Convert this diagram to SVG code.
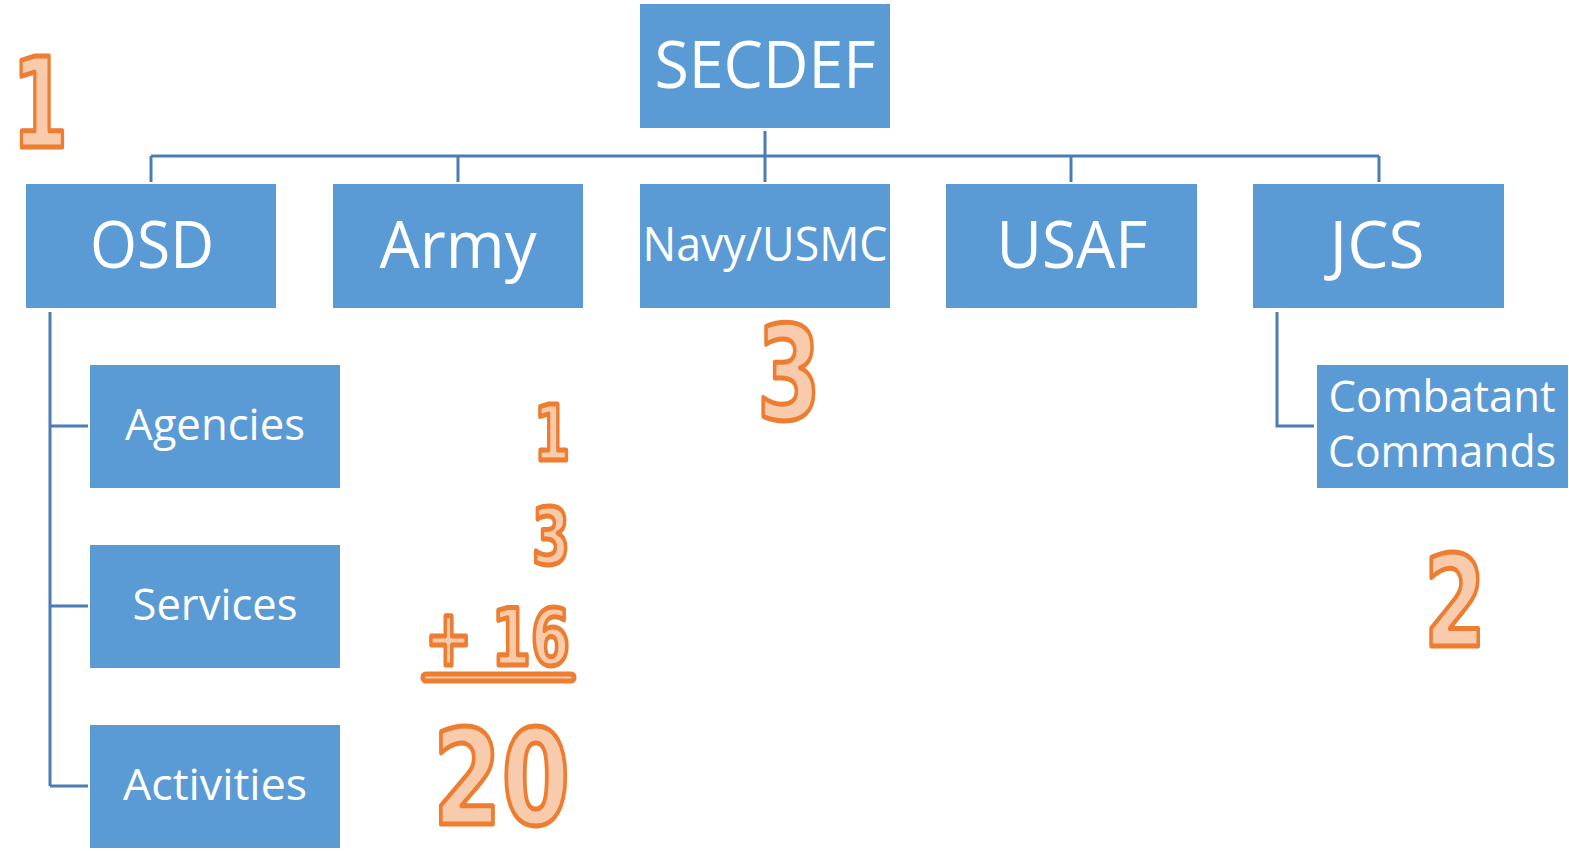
<svg xmlns="http://www.w3.org/2000/svg" width="1569" height="851" viewBox="0 0 1569 851">
  <style>
    .box { fill: #5b9bd5; }
    .lbl { fill: #ffffff; font-family: "Open Sans", "Noto Sans", sans-serif; text-anchor: middle; }
    .big { font-size: 66px; }
    .mid { font-size: 48px; }
    .sm { font-size: 43px; }
    .link { fill: none; stroke: #4a7db3; stroke-width: 3; }
    .num { fill: #f8cbad; stroke: #ed7d31; stroke-width: 5; stroke-linejoin: round; font-family: "DejaVu Sans", sans-serif; font-weight: bold; }
  </style>

  <!-- connectors -->
  <g id="connectors">
    <path class="link" d="M765 131 V182 M151 156 H1379 M151 156 V182 M458 156 V182 M1071 156 V182 M1379 156 V182"/>
    <path class="link" d="M50 312 V786 M50 426 H88 M50 606 H88 M50 786 H88"/>
    <path class="link" d="M1277 312 V426 H1314"/>
  </g>

  <g id="secdef">
    <rect class="box" x="640" y="4" width="250" height="124"/>
    <text class="lbl big" x="765" y="88" textLength="221" lengthAdjust="spacingAndGlyphs">SECDEF</text>
  </g>
  <g id="osd">
    <rect class="box" x="26" y="184" width="250" height="124"/>
    <text class="lbl big" x="152" y="268" textLength="124" lengthAdjust="spacingAndGlyphs">OSD</text>
  </g>
  <g id="army">
    <rect class="box" x="333" y="184" width="250" height="124"/>
    <text class="lbl big" x="458" y="268" textLength="157" lengthAdjust="spacingAndGlyphs">Army</text>
  </g>
  <g id="navy">
    <rect class="box" x="640" y="184" width="250" height="124"/>
    <text class="lbl mid" x="765" y="261" textLength="245" lengthAdjust="spacingAndGlyphs">Navy/USMC</text>
  </g>
  <g id="usaf">
    <rect class="box" x="946" y="184" width="251" height="124"/>
    <text class="lbl big" x="1072" y="268" textLength="151" lengthAdjust="spacingAndGlyphs">USAF</text>
  </g>
  <g id="jcs">
    <rect class="box" x="1253" y="184" width="251" height="124"/>
    <text class="lbl big" x="1377" y="268" textLength="95" lengthAdjust="spacingAndGlyphs">JCS</text>
  </g>
  <g id="agencies">
    <rect class="box" x="90" y="365" width="250" height="123"/>
    <text class="lbl sm" x="215" y="440" textLength="180" lengthAdjust="spacingAndGlyphs">Agencies</text>
  </g>
  <g id="services">
    <rect class="box" x="90" y="545" width="250" height="123"/>
    <text class="lbl sm" x="215" y="620" textLength="165" lengthAdjust="spacingAndGlyphs">Services</text>
  </g>
  <g id="activities">
    <rect class="box" x="90" y="725" width="250" height="123"/>
    <text class="lbl sm" x="215" y="800" textLength="184" lengthAdjust="spacingAndGlyphs">Activities</text>
  </g>
  <g id="combatant-commands">
    <rect class="box" x="1317" y="365" width="251" height="123"/>
    <text class="lbl sm" x="1442" y="412" textLength="227" lengthAdjust="spacingAndGlyphs">Combatant</text>
    <text class="lbl sm" x="1442" y="467" textLength="228" lengthAdjust="spacingAndGlyphs">Commands</text>
  </g>

  <!-- tallies -->
  <g id="tallies">
    <text class="num" x="40" y="147" font-size="124" text-anchor="middle" textLength="56" lengthAdjust="spacingAndGlyphs">1</text>
    <text class="num" x="789" y="419" font-size="130" text-anchor="middle" textLength="64" lengthAdjust="spacingAndGlyphs">3</text>
    <text class="num" x="1455" y="646" font-size="126" text-anchor="middle" textLength="62" lengthAdjust="spacingAndGlyphs">2</text>
    <text class="num" x="570" y="460" font-size="77" text-anchor="end" textLength="36" lengthAdjust="spacingAndGlyphs">1</text>
    <text class="num" x="570" y="564" font-size="79" text-anchor="end" textLength="38" lengthAdjust="spacingAndGlyphs">3</text>
    <text class="num" x="570" y="665" font-size="79" text-anchor="end" textLength="145" lengthAdjust="spacingAndGlyphs">+ 16</text>
    <rect class="num" x="423" y="674" width="151" height="7" rx="3"/>
    <text class="num" x="570" y="824" font-size="132" text-anchor="end" textLength="137" lengthAdjust="spacingAndGlyphs">20</text>
  </g>
</svg>
